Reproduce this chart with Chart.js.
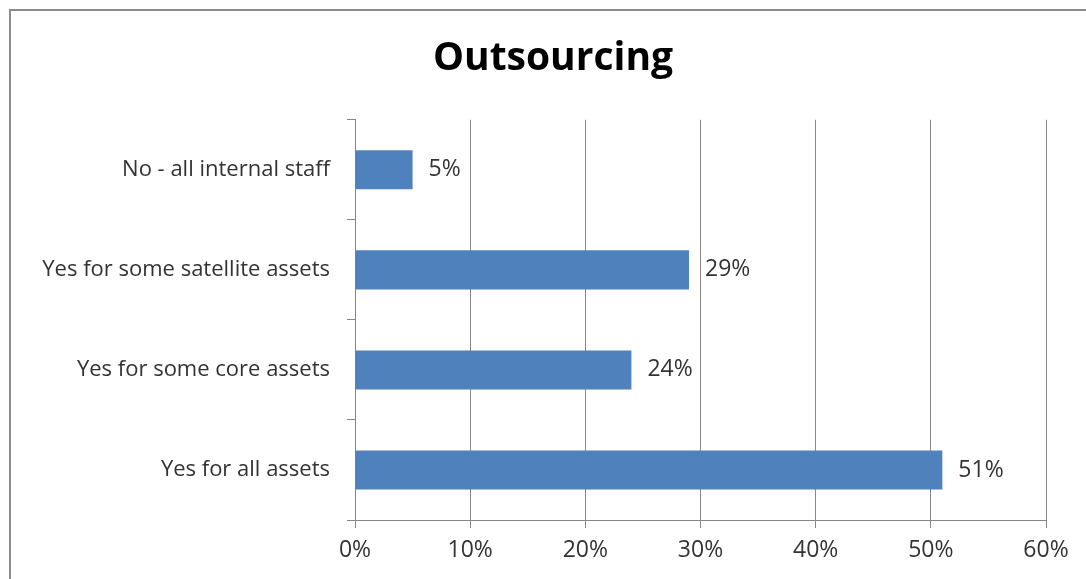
<!DOCTYPE html>
<html>
<head>
<meta charset="utf-8">
<title>Outsourcing</title>
<script src="https://cdn.jsdelivr.net/npm/chart.js@4/dist/chart.umd.min.js"></script>
<style>
  html, body { margin: 0; padding: 0; background: #fff; overflow: hidden; }
  #frame {
    position: absolute; left: 9px; top: 9px;
    width: 1200px; height: 700px;
    border: 2px solid #8c8c8c; box-sizing: border-box;
  }
  #chart { position: absolute; left: 20px; top: 0; }
</style>
</head>
<body>
<div id="frame"></div>
<canvas id="chart" width="1066" height="579"></canvas>
<script>
'use strict';

// ── Data ────────────────────────────────────────────────────────────────────
const categories = [
  'No - all internal staff',
  'Yes for some satellite assets',
  'Yes for some core assets',
  'Yes for all assets',
];
const shares = [5, 29, 24, 51];   // percent
const xTicks = [0, 10, 20, 30, 40, 50, 60];

const TEXT = '#333333';
const GRID = '#878787';
const FONT = '"Open Sans", Lato, sans-serif';

// value labels just past the end of each bar
const barLabels = {
  id: 'barLabels',
  afterDatasetsDraw(chart) {
    const ctx = chart.ctx;
    const meta = chart.getDatasetMeta(0);
    ctx.save();
    ctx.font = `23px ${FONT}`;
    ctx.fillStyle = TEXT;
    ctx.textAlign = 'left';
    ctx.textBaseline = 'middle';
    meta.data.forEach((bar, i) => {
      ctx.fillText(shares[i] + '%', bar.x + 16, bar.y);
    });
    ctx.restore();
  },
};

// title sits a little right of the canvas centre in the original
const titleNudge = {
  id: 'titleNudge',
  afterLayout(chart) {
    const t = chart.titleBlock;
    if (t) { t.left += 10; t.right += 10; }
  },
};

new Chart(document.getElementById('chart'), {
  type: 'bar',
  data: {
    labels: categories,
    datasets: [{
      data: shares,
      backgroundColor: '#4F81BD',
      borderWidth: 0,
      barPercentage: 0.39,
      categoryPercentage: 1,
    }],
  },
  plugins: [barLabels, titleNudge],
  options: {
    indexAxis: 'y',
    responsive: false,
    animation: false,
    devicePixelRatio: 1,
    layout: { padding: { left: 20, right: 40, top: 0, bottom: 0 } },
    plugins: {
      legend: { display: false },
      tooltip: { enabled: false },
      title: {
        display: true,
        text: 'Outsourcing',
        color: '#000',
        font: { family: FONT, size: 39, weight: 'bold' },
        padding: { top: 35, bottom: 38 },
      },
    },
    scales: {
      x: {
        min: 0,
        max: 60,
        afterBuildTicks: scale => { scale.ticks = xTicks.map(v => ({ value: v })); },
        afterFit: scale => { scale.height = 59; },
        ticks: {
          color: TEXT,
          padding: 9,
          maxRotation: 0,
          font: { family: FONT, size: 23 },
          callback: v => v + '%',
        },
        grid: { color: GRID, lineWidth: 1, tickLength: 8, drawTicks: true },
        border: { color: GRID, width: 1 },
      },
      y: {
        afterFit: scale => { scale.width = 315; },
        ticks: {
          color: TEXT,
          padding: 17,
          font: { family: FONT, size: 22 },
        },
        grid: {
          offset: true,
          drawOnChartArea: false,
          drawTicks: true,
          tickLength: 8,
          color: GRID,
        },
        border: { color: GRID, width: 1 },
      },
    },
  },
});
</script>
</body>
</html>
